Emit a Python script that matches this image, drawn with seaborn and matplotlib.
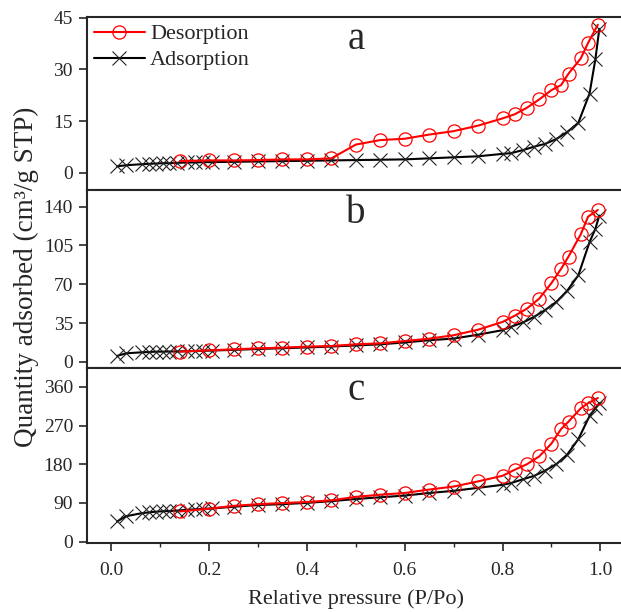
import matplotlib
matplotlib.use("Agg")
import matplotlib.pyplot as plt
import seaborn as sns
from matplotlib.ticker import MultipleLocator

# relative pressure points (P/Po)
ads_x = [0.012, 0.03, 0.062, 0.077, 0.091, 0.105, 0.118, 0.135, 0.155, 0.172, 0.188, 0.205,
         0.25, 0.30, 0.35, 0.40, 0.45, 0.50, 0.55, 0.60, 0.65,
         0.70, 0.75, 0.80, 0.817, 0.842, 0.865, 0.887, 0.91, 0.932, 0.955, 0.978, 0.99, 0.998]
des_x = [0.14, 0.20, 0.25, 0.30, 0.35, 0.40, 0.45, 0.50, 0.55, 0.60, 0.65, 0.70, 0.75,
         0.80, 0.825, 0.85, 0.875, 0.90, 0.92, 0.935, 0.96, 0.975, 0.995]

# quantity adsorbed (cm3/g STP), panel a
ads_a = [1.9, 2.2, 2.5, 2.6, 2.7, 2.8, 2.8, 2.9, 3.0, 3.0, 3.1, 3.1,
         3.2, 3.3, 3.4, 3.5, 3.6, 3.7, 3.8, 3.9, 4.2,
         4.5, 4.8, 5.5, 5.7, 6.6, 7.6, 8.4, 9.8, 11.8, 14.5, 23.0, 33.0, 41.8]
des_a = [3.4, 3.6, 3.6, 3.7, 3.9, 3.9, 4.2, 8.2, 9.5, 9.9, 11.1, 12.1, 13.7,
         15.8, 17.0, 18.9, 21.3, 24.0, 25.5, 28.8, 33.2, 37.7, 43.0]

# panel b
ads_b = [5.4, 7.7, 8.6, 8.9, 9.2, 9.2, 9.3, 9.4, 9.6, 9.8, 10.0, 10.2,
         10.8, 11.6, 12.3, 13.0, 13.8, 14.8, 15.8, 17.5, 19.5,
         21.0, 24.5, 28.6, 31.6, 35.5, 40.7, 46.7, 54.0, 64.0, 78.0, 108.0, 120.0, 132.0]
des_b = [9.2, 10.4, 11.3, 12.2, 12.8, 13.7, 14.3, 15.8, 16.7, 18.8, 20.9, 24.0, 29.0,
         36.0, 41.6, 48.0, 57.0, 71.0, 84.0, 95.0, 115.0, 131.0, 137.0]

# panel c
ads_c = [47, 59, 66, 68, 69.5, 70.5, 71, 72, 74, 75, 76, 77,
         81, 85, 87, 90, 94, 99, 103, 107, 113,
         118, 125, 132, 136, 145, 153, 165, 180, 202, 238, 292, 310, 322]
des_c = [70, 76.6, 83, 87, 89.5, 92, 96, 104, 109, 113, 121, 128, 140,
         153, 167, 180, 198, 228, 262, 279, 310, 322, 334]

panel_labels = ["a", "b", "c"]
ads_series = [ads_a, ads_b, ads_c]
des_series = [des_a, des_b, des_c]
y_ticks = [[0, 15, 30, 45], [0, 35, 70, 105, 140], [0, 90, 180, 270, 360]]
y_limits = [(-5, 45.2), (-5.5, 155), (-3, 404)]

sns.set_style("ticks")
plt.rcParams["font.family"] = ["Liberation Serif", "DejaVu Serif"]

fig = plt.figure(figsize=(6.21, 6.12), dpi=100)
gs = fig.add_gridspec(3, 1, left=0.140, right=1.006, top=0.972, bottom=0.113,
                      hspace=0, height_ratios=[173, 178, 175])

axes = []
for i in range(3):
    ax = fig.add_subplot(gs[i])
    axes.append(ax)
    sns.lineplot(x=ads_x, y=ads_series[i], ax=ax, color="black", lw=1.5,
                 marker="x", markersize=10, markeredgewidth=0.8,
                 markeredgecolor="#222222", label="Adsorption", legend=False)
    sns.lineplot(x=des_x, y=des_series[i], ax=ax, color="red", lw=1.5,
                 marker="o", markersize=9.5, markerfacecolor="none",
                 markeredgecolor="red", markeredgewidth=0.9,
                 label="Desorption", legend=False)

    ax.set_xlim(-0.05, 1.05)
    ax.set_ylim(*y_limits[i])
    ax.set_yticks(y_ticks[i])
    ax.set_xlabel("")
    ax.set_ylabel("")
    for sp in ax.spines.values():
        sp.set_linewidth(1.5)
    # right edge of the frame is cut off in the original
    ax.spines["right"].set_visible(False)
    ax.tick_params(axis="y", direction="out", length=6, width=1.2, pad=4,
                   labelsize=14, right=False)
    ax.text(0.5, 0.87, panel_labels[i], transform=ax.transAxes,
            ha="center", va="center", fontsize=28)
    if i < 2:
        ax.tick_params(axis="x", bottom=False, labelbottom=False)

ax_c = axes[2]
ax_c.xaxis.set_major_locator(MultipleLocator(0.2))
ax_c.xaxis.set_minor_locator(MultipleLocator(0.1))
ax_c.xaxis.set_major_formatter(plt.FormatStrFormatter("%.1f"))
ax_c.tick_params(axis="x", which="major", direction="out", length=6, width=1.2,
                 pad=8, labelsize=14, top=False)
ax_c.tick_params(axis="x", which="minor", direction="out", length=3, width=1.0, top=False)
ax_c.set_xlabel("Relative pressure (P/Po)", fontsize=16, labelpad=7)

fig.text(0.043, 0.547, "Quantity adsorbed (cm³/g STP)", rotation=90,
         ha="center", va="center", fontsize=19.5)

handles, labels = axes[0].get_legend_handles_labels()
order = [labels.index("Desorption"), labels.index("Adsorption")]
axes[0].legend([handles[k] for k in order], [labels[k] for k in order],
               loc="upper left", frameon=False, fontsize=16, handlelength=2.3,
               handletextpad=0.25, labelspacing=0.25, borderaxespad=0.1,
               borderpad=0.2)

fig.savefig("out.png", dpi=100)
